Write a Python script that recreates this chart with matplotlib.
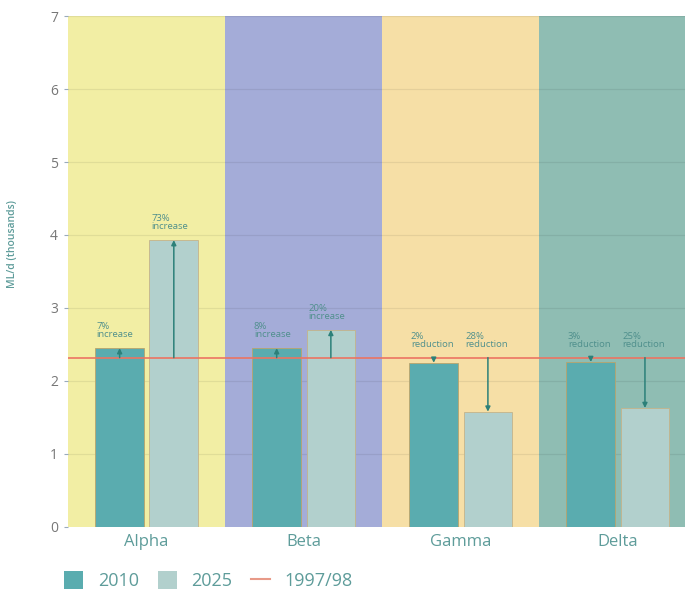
import numpy as np
import matplotlib.pyplot as plt
from matplotlib.patches import Patch
from matplotlib.lines import Line2D

plt.rcParams['font.family'] = ['Open Sans', 'DejaVu Sans']

regions = ['Alpha', 'Beta', 'Gamma', 'Delta']
vals_2010 = [2.45, 2.45, 2.25, 2.26]
vals_2025 = [3.93, 2.70, 1.58, 1.63]
baseline = 2.32
notes_2010 = ['7%\nincrease', '8%\nincrease', '2%\nreduction', '3%\nreduction']
notes_2025 = ['73%\nincrease', '20%\nincrease', '28%\nreduction', '25%\nreduction']
band_colors = ['#f2eea4', '#a4acd8', '#f6dfa6', '#8fbdb3']

c2010 = '#5aacaf'
c2025 = '#b2d0cd'
txt = '#5e9c9a'

fig = plt.figure(figsize=(6.85, 5.95), dpi=100)
ax = fig.add_axes([0.099, 0.1143, 0.901, 0.8588])

x = np.arange(len(regions))
for i, c in enumerate(band_colors):
    ax.axvspan(i - 0.5, i + 0.5, color=c, zorder=0, lw=0)

# faint grid lines inside the coloured bands
for yv in range(1, 8):
    ax.axhline(yv, color='#000000', alpha=0.07, lw=0.9, zorder=1)

w = 0.31
off = 0.17
ax.bar(x - off, vals_2010, w, color=c2010, edgecolor='#b9a46c', lw=0.6, zorder=2)
ax.bar(x + off + 0.005, vals_2025, w, color=c2025, edgecolor='#c4b48a', lw=0.6, zorder=2)

ax.axhline(baseline, color='#ec7462', lw=1.2, zorder=3)

for xs, vals, notes in [(x - off, vals_2010, notes_2010), (x + off + 0.005, vals_2025, notes_2025)]:
    for xi, v, n in zip(xs, vals, notes):
        ax.annotate('', xy=(xi, v), xytext=(xi, baseline),
                    arrowprops=dict(arrowstyle='-|>', color='#2c8079', lw=1.1,
                                    mutation_scale=7, shrinkA=0, shrinkB=0),
                    zorder=4)
        ax.text(xi - w / 2 + 0.01, max(v, baseline) + 0.12, n, fontsize=6.8,
                color='#4f8f8c', ha='left', va='bottom', linespacing=0.9, zorder=5)

ax.set_xlim(-0.5, 3.43)
ax.set_ylim(0, 7)
ax.set_yticks(range(8))
ax.set_xticks(x)
ax.set_xticklabels(regions, fontsize=12, color=txt)
ax.tick_params(axis='x', length=0, pad=5)
ax.tick_params(axis='y', length=3, color='#9ab', labelsize=10, labelcolor='#777777', pad=4)
for s in ax.spines.values():
    s.set_visible(False)

fig.text(0.018, 0.59, 'ML/d (thousands)', rotation=90, fontsize=7.5, color=txt,
         fontweight='semibold', ha='center', va='center')

handles = [Patch(facecolor=c2010, edgecolor='none'),
           Patch(facecolor=c2025, edgecolor='none'),
           Line2D([0], [0], color='#e89a88', lw=1.5)]
fig.legend(handles, ['2010', '2025', '1997/98'], loc='center left',
           bbox_to_anchor=(0.094, 0.024), ncol=3, frameon=False, fontsize=13,
           labelcolor=txt, handlelength=1.05, handleheight=1.1, columnspacing=1.05,
           handletextpad=0.8, borderpad=0, borderaxespad=0)

fig.savefig('out.png', dpi=100)
